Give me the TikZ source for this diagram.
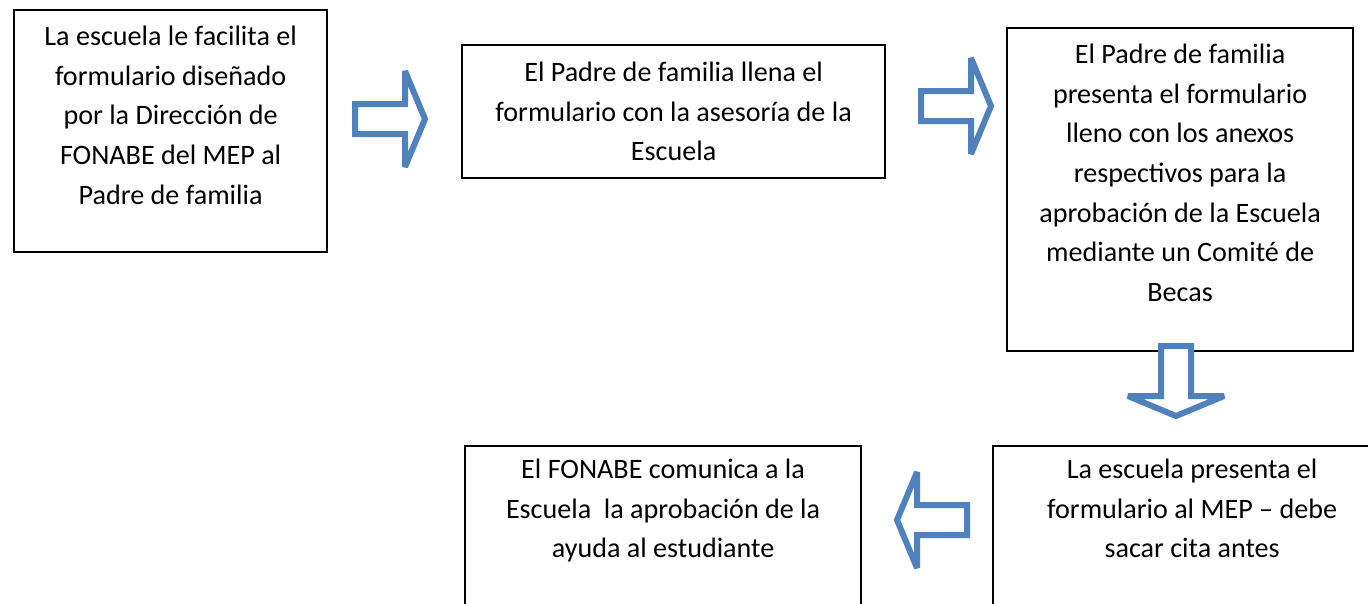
\documentclass[tikz,border=0pt]{standalone}
\usepackage{fontspec}
\setmainfont{Carlito}
\usepackage{xcolor}
\usetikzlibrary{positioning}
\definecolor{arrowblue}{HTML}{4F81BD}

\tikzset{
  box/.style={draw, line width=1.3pt, inner sep=0pt, anchor=north west},
  txt/.style={align=center, font=\fontsize{16}{22.5}\selectfont, inner sep=0pt, anchor=north},
  pics/blockarrow/.style={code={
    \draw[draw=arrowblue, fill=white, line width=0.12cm, line join=miter, miter limit=2]
      (0,-15) -- (50,-15) -- (50,-48) -- (70,0) -- (50,48) -- (50,15) -- (0,15) -- cycle;
  }}
}

\begin{document}
\begin{tikzpicture}[x=0.02cm, y=-0.02cm]
    \useasboundingbox (0,0) rectangle (1368,603);

    % boxes
    \node[box, minimum width=6.26cm, minimum height=4.84cm] (facilita) at (13,9) {};
    \node[box, minimum width=8.46cm, minimum height=2.66cm] (llena) at (461,44) {};
    \node[box, minimum width=6.92cm, minimum height=6.46cm] (presenta) at (1006,27) {};
    \node[box, minimum width=7.96cm, minimum height=3.6cm] (mep) at (992,445) {};
    \node[box, minimum width=7.92cm, minimum height=3.6cm] (comunica) at (464,445) {};

    % texts
    \node[txt] (tfacilita) at ([yshift=-0.34cm]facilita.north) {La escuela le facilita el\\formulario diseñado\\por la Dirección de\\FONABE del MEP al\\Padre de familia};
    \node[txt] (tllena) at ([yshift=-0.36cm]llena.north) {El Padre de familia llena el\\formulario con la asesoría de la\\Escuela};
    \node[txt] (tpresenta) at ([yshift=-0.34cm]presenta.north) {El Padre de familia\\presenta el formulario\\lleno con los anexos\\respectivos para la\\aprobación de la Escuela\\mediante un Comité de\\Becas};
    \node[txt] (tmep) at ([yshift=-0.28cm]mep.north) {La escuela presenta el\\formulario al MEP -- debe\\sacar cita antes};
    \node[txt] (tcomunica) at ([yshift=-0.28cm]comunica.north) {El FONABE comunica a la\\Escuela\ \ la aprobación de la\\ayuda al estudiante};

    % block arrows
    \pic (a1) at (355,119) {blockarrow};
    \pic (a2) at (921,106) {blockarrow};
    \pic[rotate=-90] (a3) at (1176,346) {blockarrow};
    \pic[rotate=180] (a4) at (967,520) {blockarrow};
\end{tikzpicture}
\end{document}
